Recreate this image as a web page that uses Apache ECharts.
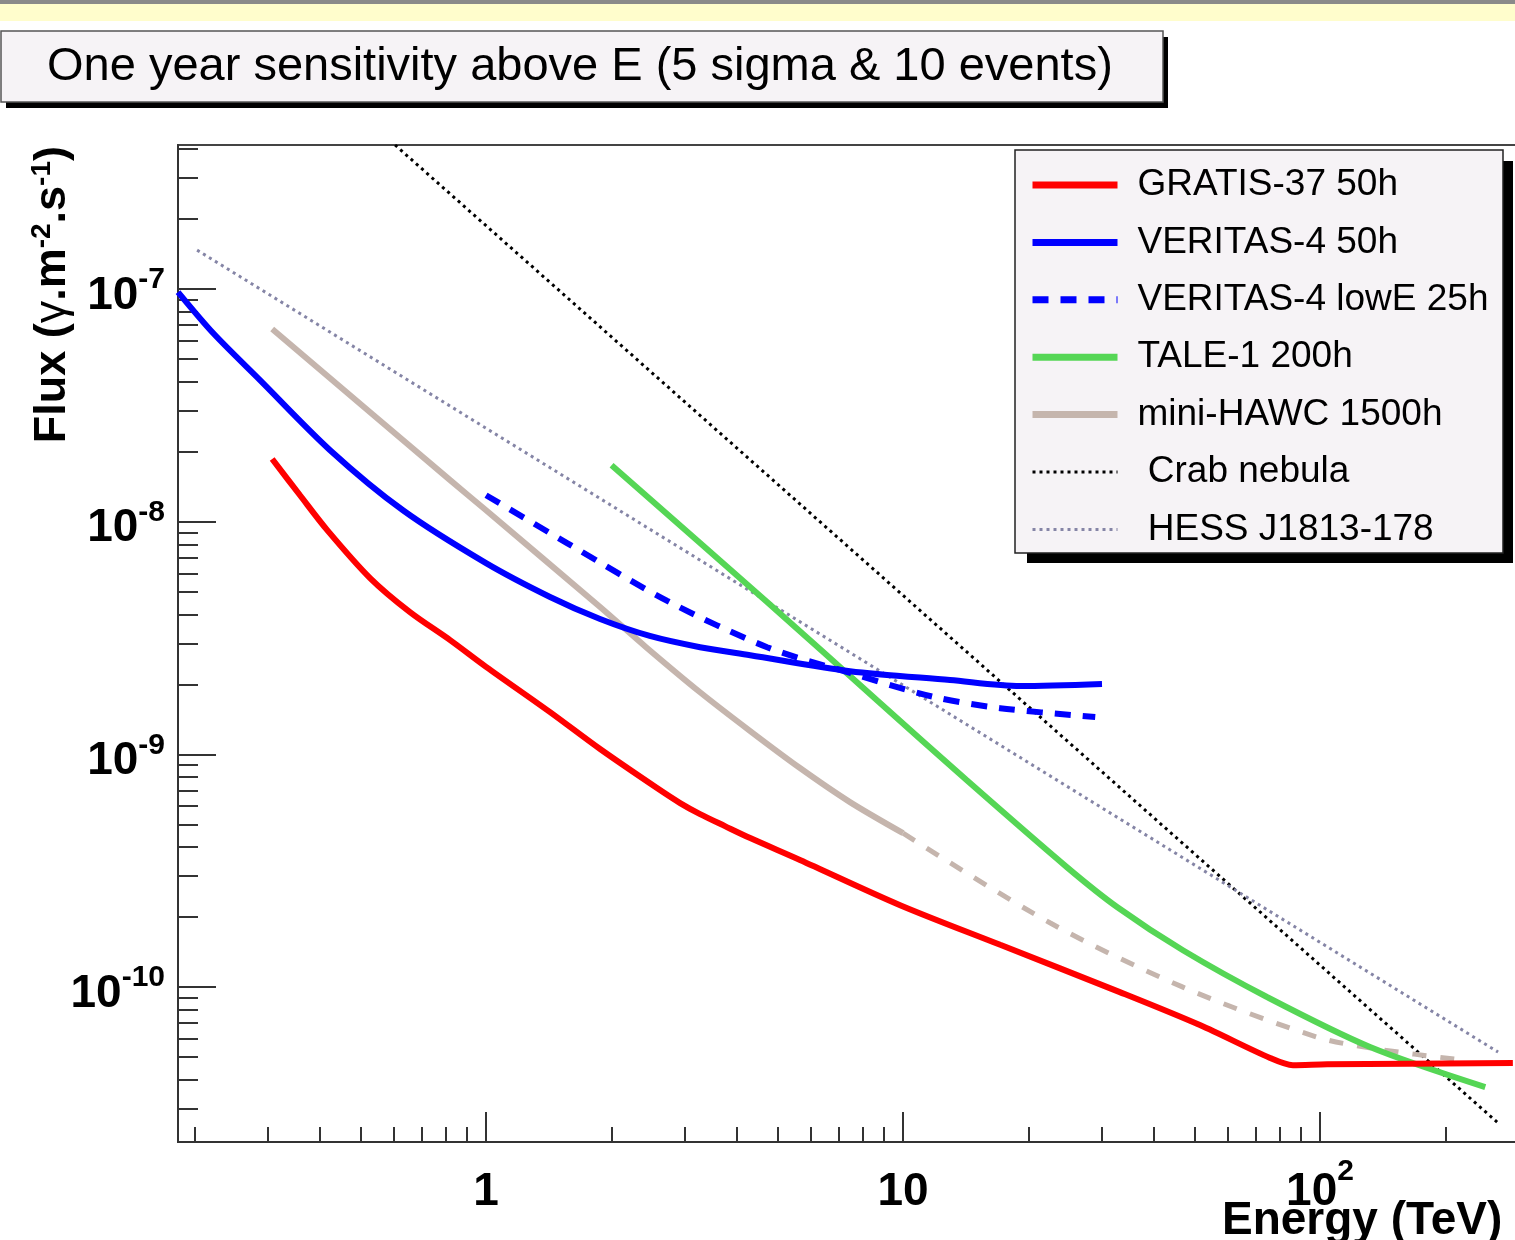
<!DOCTYPE html>
<html lang="en">
<head>
<meta charset="UTF-8">
<title>One year sensitivity above E</title>
<script src="https://cdn.jsdelivr.net/npm/echarts@6.0.0/dist/echarts.min.js"></script>
<style>
  html, body { margin: 0; padding: 0; background: #fff; }
  #chart { width: 1515px; height: 1240px; }
</style>
</head>
<body>
<div id="chart"></div>
<script>
var FONT = "'Liberation Sans', Arial, Helvetica, sans-serif";

// energy (TeV) / integral flux (gamma m^-2 s^-1)
var gratisE = [0.307, 0.358, 0.416, 0.527, 0.657, 0.82, 1.0, 1.424, 1.877, 2.57, 2.92, 3.26, 3.74, 4.3, 5.66, 9.84, 17.1, 33.1, 51.5, 75.9, 86.1, 104, 290];
var gratisF = [1.86e-8, 1.30e-8, 9.21e-9, 5.73e-9, 4.09e-9, 3.10e-9, 2.38e-9, 1.52e-9, 1.055e-9, 7.17e-10, 6.18e-10, 5.54e-10, 4.92e-10, 4.37e-10, 3.52e-10, 2.25e-10, 1.52e-10, 9.52e-11, 6.87e-11, 4.96e-11, 4.62e-11, 4.66e-11, 4.72e-11];

var veritasE = [0.1825, 0.2215, 0.287, 0.4226, 0.632, 1.0, 1.424, 1.877, 2.47, 3.26, 4.3, 7.46, 12.96, 19.1, 30.0];
var veritasF = [9.7e-8, 6.47e-8, 4.06e-8, 2.03e-8, 1.12e-8, 6.64e-9, 4.75e-9, 3.82e-9, 3.23e-9, 2.89e-9, 2.67e-9, 2.28e-9, 2.09e-9, 1.97e-9, 2.01e-9];

var lowE_E = [1.0, 1.564, 2.72, 4.72, 7.46, 11.8, 17.1, 28.9];
var lowE_F = [1.30e-8, 8.1e-9, 4.57e-9, 2.89e-9, 2.24e-9, 1.77e-9, 1.58e-9, 1.45e-9];

var taleE = [2.0, 4.72, 8.66, 14.2, 24.7, 32.6, 46.9, 74.6, 131.8, 249];
var taleF = [1.75e-8, 4.52e-9, 1.71e-9, 7.76e-10, 3.28e-10, 2.21e-10, 1.44e-10, 9.07e-11, 5.53e-11, 3.72e-11];

var hawcE = [0.307, 0.82, 1.0, 1.877, 2.42, 3.26, 4.3, 5.66, 7.46, 10.0];
var hawcF = [6.73e-8, 1.51e-8, 1.12e-8, 4.30e-9, 2.89e-9, 1.85e-9, 1.26e-9, 8.74e-10, 6.24e-10, 4.59e-10];
var hawcExtE = [10.0, 22.5, 46.9, 98.3, 137, 220];
var hawcExtF = [4.59e-10, 1.89e-10, 1.00e-10, 6.1e-11, 5.42e-11, 4.86e-11];

var crabE = [0.605, 265.8];
var crabF = [4.16e-7, 2.63e-11];

var hessE = [0.2028, 267.3];
var hessF = [1.47e-7, 5.26e-11];

// axis ticks
var xMajor = [1, 10, 100];
var xMinor = [0.2, 0.3, 0.4, 0.5, 0.6, 0.7, 0.8, 0.9, 2, 3, 4, 5, 6, 7, 8, 9, 20, 30, 40, 50, 60, 70, 80, 90, 200, 300];
var yMajor = [1e-10, 1e-9, 1e-8, 1e-7];
var yMinor = [3e-11, 4e-11, 5e-11, 6e-11, 7e-11, 8e-11, 9e-11,
              2e-10, 3e-10, 4e-10, 5e-10, 6e-10, 7e-10, 8e-10, 9e-10,
              2e-9, 3e-9, 4e-9, 5e-9, 6e-9, 7e-9, 8e-9, 9e-9,
              2e-8, 3e-8, 4e-8, 5e-8, 6e-8, 7e-8, 8e-8, 9e-8,
              2e-7, 3e-7, 4e-7];

var X_MIN = 0.1825, X_MAX = 300;
var Y_MIN = 2.16e-11, Y_MAX = 4.16e-7;

function pairs(xs, ys) {
    return xs.map(function (x, i) { return [x, ys[i]]; });
}

var tickColor = '#333';

function logAxis(min, max, pos, ticks, len, withLine) {
    return {
        type: 'log', min: min, max: max, position: pos,
        axisLine: { show: withLine, lineStyle: { color: tickColor, width: 2 } },
        axisTick: { show: true, inside: true, length: len, customValues: ticks,
                    lineStyle: { color: tickColor, width: 2 } },
        axisLabel: { show: false },
        splitLine: { show: false },
        minorTick: { show: false }
    };
}

var xMain = logAxis(X_MIN, X_MAX, 'bottom', xMajor, 30, true);
xMain.axisLabel = {
    show: true, customValues: xMajor, margin: 15,
    formatter: function (v) {
        if (v >= 99) return '{b|10}{s|2}';
        return '{b|' + Math.round(v) + '}';
    },
    rich: {
        b: { fontFamily: FONT, fontWeight: 'bold', fontSize: 46, lineHeight: 70, color: '#000' },
        s: { fontFamily: FONT, fontWeight: 'bold', fontSize: 30, lineHeight: 70, padding: [0, 0, 40, 0], color: '#000' }
    }
};
var xMin2 = logAxis(X_MIN, X_MAX, 'bottom', xMinor, 15, false);

var yMain = logAxis(Y_MIN, Y_MAX, 'left', yMajor, 38, true);
yMain.axisLabel = {
    show: true, customValues: yMajor, margin: 13,
    formatter: function (v) {
        return '{b|10}{s|' + Math.round(Math.log10(v)) + '}';
    },
    rich: {
        b: { fontFamily: FONT, fontWeight: 'bold', fontSize: 46, lineHeight: 60, padding: [14, 0, 0, 0], color: '#000' },
        s: { fontFamily: FONT, fontWeight: 'bold', fontSize: 30, lineHeight: 60, padding: [0, 0, 18, 0], color: '#000' }
    }
};
var yMin2 = logAxis(Y_MIN, Y_MAX, 'left', yMinor, 20, false);

function line(name, data, color, width, dash, smooth) {
    return {
        name: name, type: 'line', data: data,
        xAxisIndex: 0, yAxisIndex: 0,
        showSymbol: false, symbol: 'none',
        smooth: smooth || false,
        lineStyle: { color: color, width: width, type: dash || 'solid' },
        itemStyle: { color: color },
        emphasis: { disabled: true },
        silent: true
    };
}

var names = ['GRATIS-37 50h', 'VERITAS-4 50h', 'VERITAS-4 lowE 25h', 'TALE-1 200h',
             'mini-HAWC 1500h', 'Crab nebula', 'HESS J1813-178'];
var legendWidths = [7, 7, 7, 7, 7, 3, 3];

var chart = echarts.init(document.getElementById('chart'), null, { renderer: 'canvas' });
chart.setOption({
    animation: false,
    backgroundColor: '#ffffff',
    grid: {
        left: 178, top: 145, width: 1341, height: 997,
        show: true, backgroundColor: '#fff', borderColor: '#444', borderWidth: 2,
        containLabel: false, outerBoundsMode: 'none'
    },
    xAxis: [xMain, xMin2],
    yAxis: [yMain, yMin2],
    legend: {
        data: names.map(function (n, i) {
            return { name: n, lineStyle: { width: legendWidths[i] } };
        }),
        orient: 'vertical', left: 1015, top: 150,
        padding: [15, 16, 6, 14],
        itemWidth: 85, itemHeight: 14, itemGap: 17.4,
        selectedMode: false,
        backgroundColor: 'transparent', borderWidth: 0,
        itemStyle: { opacity: 0, borderWidth: 0 },
        textStyle: { fontFamily: FONT, fontSize: 37, color: '#000', lineHeight: 40, padding: [0, 0, 0, 15] },
        formatter: function (n) {
            return (n === 'Crab nebula' || n === 'HESS J1813-178') ? ' ' + n : n;
        }
    },
    graphic: [
        { type: 'rect', shape: { x: 0, y: 0, width: 1515, height: 4 }, style: { fill: '#8a8a8a' }, silent: true },
        { type: 'rect', shape: { x: 0, y: 4, width: 1515, height: 17 }, style: { fill: '#fffdcc' }, silent: true },
        { type: 'rect', shape: { x: 6, y: 37, width: 1162, height: 71 }, style: { fill: '#000' }, silent: true },
        { type: 'rect', shape: { x: 1, y: 31, width: 1162, height: 71 },
          style: { fill: '#f6f3f6', stroke: '#555', lineWidth: 1.5 }, silent: true },
        { type: 'text', x: 47, y: 67, silent: true,
          style: { text: 'One year sensitivity above E (5 sigma & 10 events)',
                   fontFamily: FONT, fontSize: 47, fill: '#000', verticalAlign: 'middle' } },
        { type: 'text', x: 53, y: 146, rotation: Math.PI / 2, silent: true,
          style: {
              text: '{b|Flux (}{g|\u03b3}{b|.m}{s|-2}{b|.s}{s|-1}{b|)}',
              align: 'right', verticalAlign: 'middle', fill: '#000',
              fontFamily: FONT, fontSize: 45, fontWeight: 'bold',
              rich: {
                  b: { fontFamily: FONT, fontSize: 45, fontWeight: 'bold', fill: '#000', lineHeight: 56 },
                  g: { fontFamily: FONT, fontSize: 45, fontWeight: 'normal', fill: '#000', lineHeight: 56 },
                  s: { fontFamily: FONT, fontSize: 28, fontWeight: 'bold', fill: '#000', lineHeight: 56, padding: [0, 0, 22, 0] }
              }
          } },
        { type: 'text', x: 1222, y: 1221, silent: true,
          style: { text: 'Energy (TeV)', fontFamily: FONT, fontSize: 46, fontWeight: 'bold',
                   fill: '#000', verticalAlign: 'middle' } },
        // legend frame with its drop shadow
        { type: 'rect', z: 3, silent: true, shape: { x: 1027, y: 161, width: 486, height: 402 }, style: { fill: '#000' } },
        { type: 'rect', z: 3, silent: true, shape: { x: 1015, y: 150, width: 488, height: 403 },
          style: { fill: '#f6f3f6', stroke: '#222', lineWidth: 1.5 } }
    ],
    series: [
        line('Crab nebula', pairs(crabE, crabF), '#000000', 3, [3, 4]),
        line('HESS J1813-178', pairs(hessE, hessF), '#8585a6', 3, [3, 4]),
        line('mini-HAWC 1500h', pairs(hawcE, hawcF), '#c5b5ad', 6, 'solid', 0.3),
        line('mini-HAWC extrapolated', pairs(hawcExtE, hawcExtF), '#c5b5ad', 5, [14, 14], 0.3),
        line('TALE-1 200h', pairs(taleE, taleF), '#55d655', 6, 'solid', 0.3),
        line('VERITAS-4 lowE 25h', pairs(lowE_E, lowE_F), '#0000ff', 6, [16, 12], 0.3),
        line('VERITAS-4 50h', pairs(veritasE, veritasF), '#0000ff', 6, 'solid', 0.3),
        line('GRATIS-37 50h', pairs(gratisE, gratisF), '#ff0000', 6, 'solid', 0.3)
    ]
});
</script>
</body>
</html>
